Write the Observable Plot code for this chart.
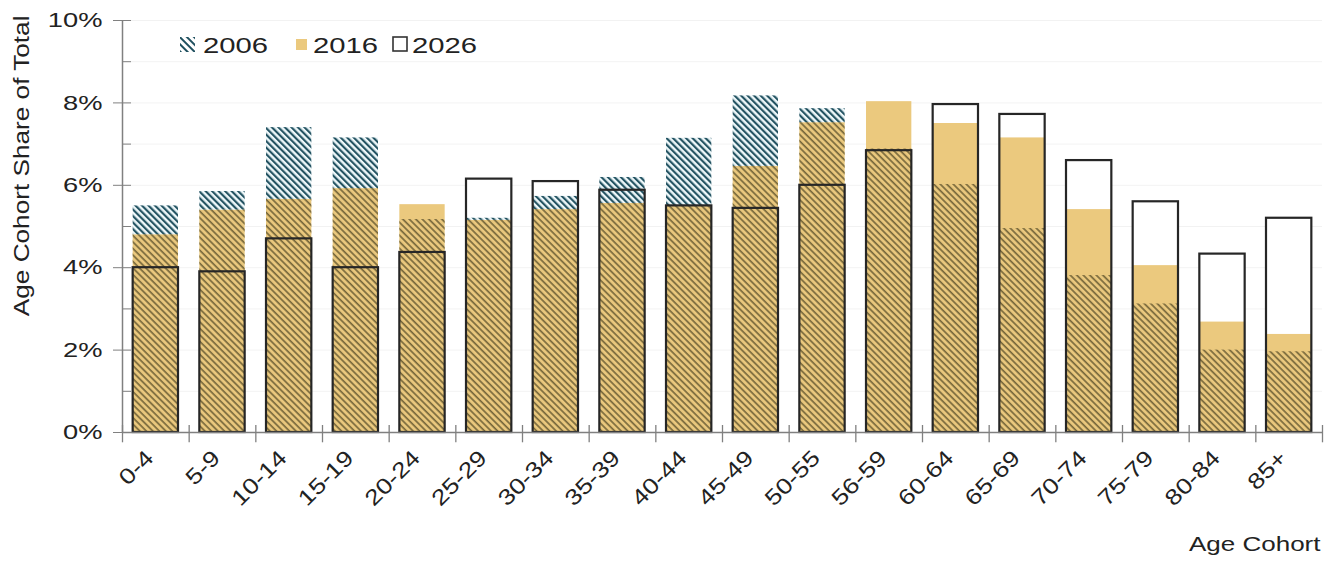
<!DOCTYPE html>
<html>
<head>
<meta charset="utf-8">
<script src="https://cdn.jsdelivr.net/npm/d3@7"></script>
<script src="https://cdn.jsdelivr.net/npm/@observablehq/plot@0.6"></script>
<style>
  body { margin: 0; background: #fff; }
  #wrap { position: relative; width: 1329px; height: 567px; font-family: "Liberation Sans", Arial, sans-serif; }
  #wrap svg.legend { position: absolute; left: 0; top: 0; }
</style>
</head>
<body>
<svg width="0" height="0" style="position:absolute">
  <defs>
    <pattern id="hatchTeal" patternUnits="userSpaceOnUse" width="4.6" height="4.6" patternTransform="rotate(-45)">
      <rect x="0" y="0" width="4.6" height="4.6" fill="#eef8fa"></rect>
      <line x1="1.1" y1="-1" x2="1.1" y2="6" stroke="#1e4f5e" stroke-width="2.1"></line>
    </pattern>
    <pattern id="hatchOlive" patternUnits="userSpaceOnUse" width="4.6" height="4.6" patternTransform="rotate(-45)">
      <line x1="1.1" y1="-1" x2="1.1" y2="6" stroke="#75663a" stroke-width="1.7"></line>
    </pattern>
    <pattern id="hatchLegend" patternUnits="userSpaceOnUse" width="5" height="5" patternTransform="rotate(-45)">
      <line x1="1" y1="-1" x2="1" y2="6" stroke="#1e4f5e" stroke-width="2"></line>
    </pattern>
  </defs>
</svg>
<div id="wrap"></div>
<script>
// ---- data ----
const cohorts = ["0-4","5-9","10-14","15-19","20-24","25-29","30-34","35-39","40-44","45-49","50-55","56-59","60-64","65-69","70-74","75-79","80-84","85+"];
const share2006 = [5.5, 5.85, 7.4, 7.15, 5.17, 5.2, 5.73, 6.19, 7.14, 8.17, 7.86, 6.88, 6.02, 4.95, 3.81, 3.12, 2.0, 1.96];
const share2016 = [4.8, 5.4, 5.66, 5.92, 5.53, 5.15, 5.41, 5.56, 5.5, 6.46, 7.52, 8.03, 7.5, 7.15, 5.41, 4.05, 2.68, 2.38];
const share2026 = [4.0, 3.9, 4.7, 4.0, 4.37, 6.15, 6.09, 5.88, 5.5, 5.44, 6.0, 6.84, 7.96, 7.72, 6.6, 5.6, 4.33, 5.2];
const yMajorTicks = [0, 2, 4, 6, 8, 10];
const yAllTicks = [0, 1, 2, 3, 4, 5, 6, 7, 8, 9, 10];
const seriesNames = ["2006", "2016", "2026"];
const xTitle = "Age Cohort";
const yTitle = "Age Cohort Share of Total";

const rows = cohorts.map((c, i) => ({c, a: share2006[i], b: share2016[i], d: share2026[i]}));

const W = 1329, H = 567, ML = 122, MR = 7, MT = 20, MB = 135;
const half = (W - ML - MR) / cohorts.length / 2;
const axisColor = "#808080";
const pct = d => d + "%";

const chart = Plot.plot({
  width: W, height: H,
  marginLeft: ML, marginRight: MR, marginTop: MT, marginBottom: MB,
  style: {fontFamily: '"Liberation Sans", Arial, sans-serif', color: "#222", background: "transparent", overflow: "visible"},
  x: {domain: cohorts, paddingInner: 0.32, paddingOuter: 0.16, round: false, label: null},
  y: {domain: [0, 10], label: null},
  marks: [
    Plot.gridY(yAllTicks.slice(1), {stroke: "#000", strokeOpacity: 0.05}),
    Plot.barY(rows, {x: "c", y: "d", fill: "white"}),
    Plot.barY(rows, {x: "c", y: "b", fill: "#ebc97e"}),
    Plot.barY(rows, {x: "c", y1: 0, y2: r => Math.min(r.a, r.b), fill: "url(#hatchOlive)"}),
    Plot.barY(rows.filter(r => r.a > r.b), {x: "c", y1: "b", y2: "a", fill: "url(#hatchTeal)"}),
    Plot.barY(rows, {x: "c", y: "d", fill: "none", stroke: "#262626", strokeWidth: 2.2}),
    Plot.ruleY([0], {stroke: axisColor, strokeWidth: 1.5}),
    Plot.ruleX([cohorts[0]], {y1: 0, y2: 10, dx: -half, stroke: axisColor, strokeWidth: 1.5}),
    Plot.ruleX(cohorts, {x: d => d, y1: -0.25, y2: 0.17, dx: -half, stroke: axisColor, strokeWidth: 1.3}),
    Plot.ruleX([cohorts[cohorts.length - 1]], {y1: -0.25, y2: 0.17, dx: half, stroke: axisColor, strokeWidth: 1.3}),
    Plot.axisY({ticks: yMajorTicks, tickSize: 9, tickPadding: 11, tickFormat: pct, stroke: axisColor, fill: "#222", fontSize: 21, label: null}),
    Plot.axisY({ticks: yAllTicks, tickSize: 9, dx: 9, tickFormat: () => "", stroke: axisColor, label: null}),
    Plot.axisX({tickRotate: -45, tickSize: 0, tickPadding: 22, dx: -6, fill: "#222", fontSize: 22, label: null}),
    Plot.text([xTitle], {frameAnchor: "bottom-right", dx: -2, dy: 118, textAnchor: "end", fontSize: 20, fill: "#222"}),
    Plot.text([yTitle], {frameAnchor: "top-left", rotate: -90, dx: -109, dy: -5, textAnchor: "end", fontSize: 22, fill: "#222"})
  ]
});

// stretch text glyphs along their baseline (reference text is wide)
function stretch(el, s) {
  const t = el.getAttribute("transform") || "";
  const xa = el.getAttribute("x");
  let extra = "";
  if (xa != null && xa !== "" && !isNaN(+xa)) { extra = `translate(${+xa},0)`; el.removeAttribute("x"); }
  el.setAttribute("transform", `${t} ${extra} scale(${s},1)`.trim());
}
const yLabels = new Set(yMajorTicks.map(pct));
const xLabels = new Set(cohorts);
chart.querySelectorAll("text").forEach(el => {
  const s = el.textContent;
  if (yLabels.has(s)) stretch(el, 1.3);
  else if (xLabels.has(s)) stretch(el, 1.2);
  else if (s === xTitle) stretch(el, 1.3);
  else if (s === yTitle) stretch(el, 1.19);
});

const wrap = document.getElementById("wrap");
wrap.appendChild(chart);

// legend overlay
const ns = "http://www.w3.org/2000/svg";
const leg = document.createElementNS(ns, "svg");
leg.setAttribute("class", "legend");
leg.setAttribute("width", 600);
leg.setAttribute("height", 80);
const items = [
  {sw: {x: 180, y: 37, w: 15, h: 15, fill: "url(#hatchLegend)", stroke: "none"}, tx: 203},
  {sw: {x: 296, y: 39, w: 11, h: 11, fill: "#ebc97e", stroke: "none"}, tx: 313},
  {sw: {x: 393, y: 37, w: 14, h: 14, fill: "white", stroke: "#333"}, tx: 412}
];
items.forEach((it, i) => {
  const r = document.createElementNS(ns, "rect");
  r.setAttribute("x", it.sw.x); r.setAttribute("y", it.sw.y);
  r.setAttribute("width", it.sw.w); r.setAttribute("height", it.sw.h);
  r.setAttribute("fill", it.sw.fill); r.setAttribute("stroke", it.sw.stroke);
  r.setAttribute("stroke-width", 1.6);
  leg.appendChild(r);
  const t = document.createElementNS(ns, "text");
  t.setAttribute("transform", `translate(${it.tx},53) scale(1.3,1)`);
  t.setAttribute("font-size", 22.5);
  t.setAttribute("font-family", '"Liberation Sans", Arial, sans-serif');
  t.setAttribute("fill", "#222");
  t.textContent = seriesNames[i];
  leg.appendChild(t);
});
wrap.appendChild(leg);
</script>
</body>
</html>
